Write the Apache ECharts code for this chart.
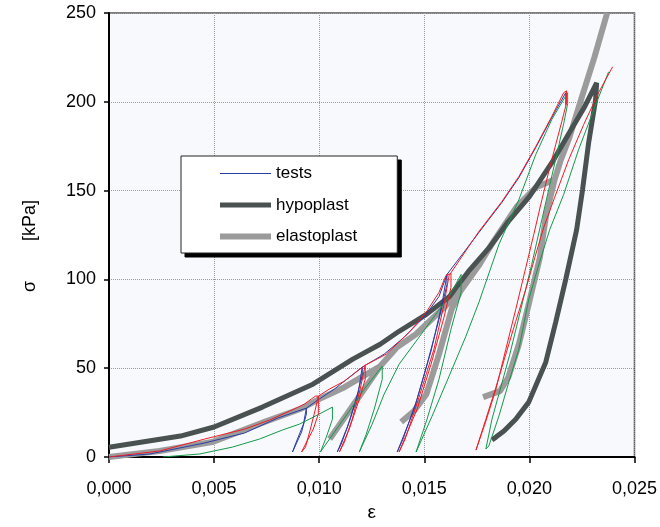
<!DOCTYPE html>
<html>
<head>
<meta charset="utf-8">
<script src="https://cdn.jsdelivr.net/npm/echarts@6/dist/echarts.min.js"></script>
<style>
  html, body { margin: 0; padding: 0; background: #fff; }
  #myChart { width: 660px; height: 527px; }
</style>
</head>
<body>
<div id="myChart"></div>
<script>
// strain eps [-], stress sigma [kPa]
var legendNames = ['tests', 'hypoplast', 'elastoplast'];

var testsBlue = [
  [0, 0], [0.00195, 1.7], [0.00455, 7.9], [0.00645, 13.5], [0.00802, 21.9], [0.00897, 25.8], [0.00939, 27.5],
  [0.00939, 24.2], [0.00916, 14.0], [0.00873, 2.8],
  [0.00887, 7.3], [0.00925, 18.5], [0.00939, 27.5],
  [0.0100, 32.6], [0.01072, 38.2], [0.01143, 44.9], [0.01205, 50.6],
  [0.01205, 46.1], [0.01176, 32.6], [0.01134, 16.9], [0.01086, 2.8],
  [0.01105, 7.3], [0.01148, 21.3], [0.01186, 36.5], [0.01205, 50.6],
  [0.01309, 57.9], [0.01404, 67.4], [0.01499, 78.7], [0.0157, 90.4], [0.01608, 102.8],
  [0.01608, 97.2], [0.0157, 77.5], [0.01513, 52.2], [0.01452, 27.0], [0.01371, 2.8],
  [0.01399, 10.1], [0.01466, 32.6], [0.01532, 59.6], [0.01584, 86.0], [0.01608, 102.8],
  [0.0176, 126.4], [0.01869, 143.3], [0.0195, 157.3], [0.0203, 174.2], [0.02106, 191.0], [0.02173, 205.1],
  [0.02173, 198.0]
];

var testsRed = [
  [0, 0], [0.00242, 3.4], [0.00455, 10.1], [0.00645, 15.7], [0.00764, 20.8], [0.00859, 25.8], [0.0093, 29.8],
  [0.00982, 34.3], [0.00996, 34.3],
  [0.00996, 24.2], [0.00972, 15.7], [0.00935, 7.3], [0.00916, 2.8],
  [0.00935, 5.6], [0.00958, 15.7], [0.00982, 27.0], [0.00996, 34.3],
  [0.01048, 38.2], [0.0112, 42.7], [0.01181, 48.3], [0.01219, 51.7],
  [0.01219, 43.8], [0.01191, 32.6], [0.01143, 15.7], [0.01096, 2.8],
  [0.0112, 8.4], [0.01157, 21.3], [0.01195, 38.2], [0.01219, 51.7],
  [0.01319, 57.9], [0.01428, 70.2], [0.01509, 81.5], [0.0157, 92.7], [0.01603, 102.2], [0.01627, 103.4],
  [0.01627, 95.5], [0.01594, 78.7], [0.01532, 52.2], [0.01466, 27.0], [0.0138, 2.8],
  [0.01409, 10.1], [0.01475, 33.7], [0.01546, 60.7], [0.01594, 86.0], [0.01618, 102.2],
  [0.0176, 127.0], [0.01869, 143.8], [0.0195, 157.9], [0.0203, 174.7], [0.02106, 191.6], [0.02163, 205.1], [0.02177, 206.2],
  [0.02177, 199.4], [0.02154, 188.8], [0.02125, 175.8], [0.02092, 160.7], [0.02054, 142.1], [0.02021, 125.3],
  [0.01983, 106.7], [0.01935, 83.1], [0.01888, 60.7], [0.01841, 38.2], [0.01793, 20.2], [0.01746, 3.9],
  [0.01793, 21.3], [0.01841, 39.3], [0.01888, 57.9], [0.01935, 76.4], [0.01983, 94.4], [0.02026, 112.4],
  [0.02068, 129.2], [0.0212, 146.1], [0.02187, 167.4], [0.02258, 187.1], [0.02329, 205.1], [0.02396, 219.7]
];

var testsGreen = [
  [0.00256, 0], [0.00432, 1.7], [0.00588, 5.6], [0.00716, 10.1], [0.00825, 15.2], [0.00906, 18.5], [0.00991, 23.6], [0.01063, 28.1],
  [0.01063, 21.3], [0.01034, 11.2], [0.01006, 2.8],
  [0.01072, 14.0], [0.01143, 25.8], [0.01214, 38.2], [0.013, 51.1],
  [0.013, 43.8], [0.01262, 27.0], [0.01224, 12.9], [0.01191, 2.8],
  [0.01252, 18.5], [0.01309, 35.4], [0.0138, 52.2], [0.01461, 65.2], [0.01537, 77.5], [0.01618, 90.4], [0.01675, 102.8],
  [0.01675, 92.7], [0.01627, 71.9], [0.0157, 43.8], [0.01513, 21.3], [0.01461, 2.8],
  [0.01537, 23.0], [0.01618, 45.5], [0.01698, 68.0], [0.0176, 87.1], [0.01855, 119.7], [0.0195, 144.9],
  [0.0203, 170.2], [0.02106, 189.9], [0.02182, 205.1],
  [0.02182, 198.9], [0.02163, 187.6], [0.0213, 170.2], [0.02092, 150.6], [0.02054, 130.9], [0.02011, 108.4],
  [0.01959, 83.1], [0.01907, 57.9], [0.01855, 35.4], [0.01822, 21.3], [0.01793, 4.5],
  [0.01807, 6.2], [0.01855, 23.0], [0.01902, 42.1], [0.0195, 60.7], [0.01997, 88.8], [0.02045, 108.4],
  [0.02097, 128.1], [0.02163, 147.8], [0.02234, 173.0], [0.02306, 195.5], [0.02377, 216.9]
];

var hypoplast = [
  [0, 5.5], [0.0034, 11.8], [0.005, 16.9], [0.0073, 28.1], [0.0097, 41.0], [0.0116, 55.1], [0.0129, 63.5],
  [0.0138, 70.8], [0.0151, 80.3], [0.0162, 90.4], [0.0171, 104.5], [0.0181, 118.0], [0.019, 132.6],
  [0.020, 146.6], [0.0211, 166.3], [0.0219, 182.6], [0.0226, 196.6], [0.0232, 210.7],
  [0.02315, 201.1], [0.02282, 177.0], [0.02253, 150.6], [0.02225, 128.1], [0.02173, 100.0], [0.02125, 75.8],
  [0.02078, 53.4], [0.01997, 30.9], [0.01935, 21.3], [0.01879, 14.6], [0.01841, 11.2], [0.01822, 9.6]
];

var elastoplast = [
  [0, 0], [0.0024, 3.4], [0.0049, 8.4], [0.0075, 20.2], [0.0091, 27.0], [0.0100, 32.6], [0.0112, 39.3],
  [0.0121, 45.5], [0.0129, 51.1],
  [0.0105, 10.1], [0.0129, 51.1],
  [0.0137, 61.8], [0.0146, 69.1], [0.0157, 81.5], [0.0167, 93.0],
  [0.0163, 83.1], [0.0157, 57.9], [0.0151, 35.4], [0.0145, 25.8], [0.0139, 19.7],
  [0.0145, 25.8], [0.0151, 35.4], [0.0157, 57.9], [0.0163, 83.1], [0.0167, 93.0],
  [0.0176, 107.9], [0.0182, 119.7], [0.0194, 141.0], [0.0203, 151.7], [0.0212, 156.2],
  [0.0208, 136.5], [0.0205, 112.4], [0.0200, 87.6], [0.0195, 63.5], [0.0190, 44.9], [0.0186, 37.1], [0.0178, 33.7],
  [0.0186, 37.1], [0.0190, 44.9], [0.0195, 63.5], [0.0200, 87.6], [0.0205, 112.4], [0.0208, 136.5], [0.0212, 156.2],
  [0.0215, 167.4], [0.0219, 179.8], [0.0225, 202.8], [0.0231, 225.3], [0.0237, 250.0]
];

var font = 'Liberation Sans, Arial, sans-serif';

function lineSeries(name, data, color, width, z) {
  return {
    name: name,
    type: 'line',
    data: data,
    symbol: 'none',
    showSymbol: false,
    smooth: false,
    z: z,
    lineStyle: { color: color, width: width },
    itemStyle: { color: color }
  };
}

// same box twice: a black one offset by 4px acts as the drop shadow
function legendBox(left, top, z, shadow) {
  return {
    data: legendNames,
    orient: 'vertical',
    left: left,
    top: top,
    z: z,
    padding: [9, 40, 8, 36],
    itemWidth: 51,
    itemHeight: 14,
    itemGap: 14.5,
    selectedMode: false,
    backgroundColor: shadow ? '#000' : '#fff',
    borderColor: shadow ? '#000' : '#222',
    borderWidth: 1,
    itemStyle: { opacity: 0, borderWidth: 0 },
    lineStyle: shadow ? { width: 'inherit', opacity: 0 } : { width: 'inherit' },
    textStyle: { fontSize: 17, color: '#000', fontFamily: font }
  };
}

var option = {
  backgroundColor: '#ffffff',
  animation: false,
  textStyle: { fontFamily: font },
  grid: {
    left: 109, right: 24, top: 13, bottom: 69,
    show: true,
    backgroundColor: '#f8f9fc',
    borderColor: '#555',
    borderWidth: 1.5
  },
  legend: [
    legendBox(185, 160, 100, true),
    legendBox(181, 156, 110, false)
  ],
  xAxis: {
    type: 'value',
    min: 0, max: 0.025, interval: 0.005,
    name: 'ε',
    nameLocation: 'middle',
    nameGap: 46,
    nameTextStyle: { fontSize: 19, color: '#000', fontFamily: font },
    axisLine: { onZero: false, lineStyle: { color: '#000', width: 2 } },
    axisTick: { length: 6, lineStyle: { color: '#000', width: 1.5 } },
    axisLabel: {
      fontSize: 18, color: '#000', margin: 23,
      formatter: function (v) { return v.toFixed(3).replace('.', ','); }
    },
    splitLine: { lineStyle: { color: '#9a9a9a', type: 'dotted', width: 1 } }
  },
  yAxis: {
    type: 'value',
    min: 0, max: 250, interval: 50,
    name: 'σ        [kPa]',
    nameLocation: 'middle',
    nameRotate: 90,
    nameGap: 70,
    nameTextStyle: { fontSize: 18, color: '#000', fontFamily: font, padding: [0, 22, 0, 0] },
    axisLine: { onZero: false, lineStyle: { color: '#000', width: 2 } },
    axisTick: { length: 5, lineStyle: { color: '#000', width: 1.5 } },
    axisLabel: { fontSize: 18, color: '#000', margin: 13 },
    splitLine: { lineStyle: { color: '#9a9a9a', type: 'dotted', width: 1 } }
  },
  series: [
    lineSeries('elastoplast', elastoplast, '#9b9b9b', 6, 2),
    lineSeries('hypoplast', hypoplast, '#4a5151', 5, 3),
    lineSeries('tests', testsBlue, '#2b3ea6', 1, 4),
    lineSeries('tests green', testsGreen, '#14994a', 1, 5),
    lineSeries('tests red', testsRed, '#ee1c25', 1, 6)
  ]
};

var myChart = echarts.init(document.getElementById('myChart'), null, { renderer: 'canvas' });
myChart.setOption(option);

window.onresize = function () {
  myChart.resize();
};
</script>
</body>
</html>
